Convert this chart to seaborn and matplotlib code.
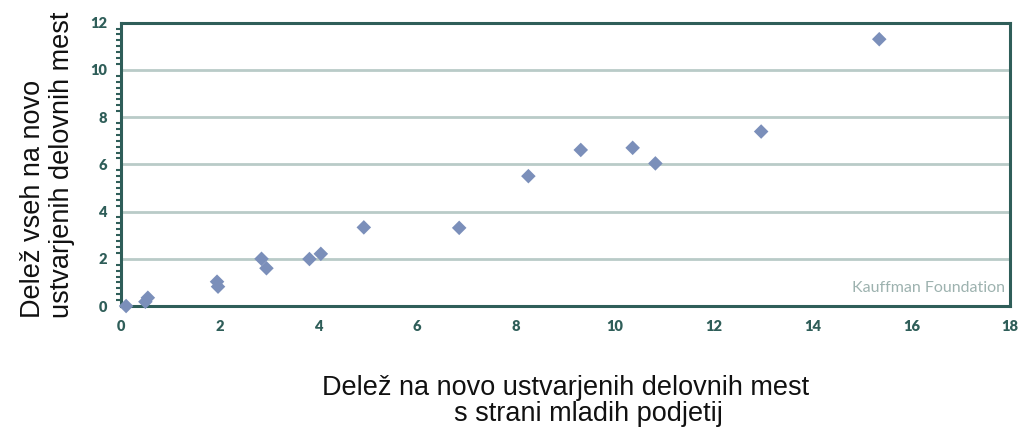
import numpy as np
import pandas as pd
import matplotlib
matplotlib.use("Agg")
import matplotlib.pyplot as plt
from matplotlib.ticker import MultipleLocator
import seaborn as sns

# Data
young_share = [0.11, 0.50, 0.55, 1.95, 1.97, 2.85, 2.95, 3.82, 4.05, 4.92,
               6.85, 8.25, 9.31, 10.36, 10.82, 12.96, 15.35]
total_share = [0.0, 0.18, 0.35, 1.03, 0.82, 2.0, 1.6, 1.99, 2.21, 3.33,
               3.31, 5.5, 6.61, 6.7, 6.04, 7.39, 11.3]
x_ticks = [0, 2, 4, 6, 8, 10, 12, 14, 16, 18]
y_ticks = [0, 2, 4, 6, 8, 10, 12]
x_label_l1 = "Delež na novo ustvarjenih delovnih mest"
x_label_l2 = "s strani mladih podjetij"
y_label = "Delež vseh na novo\nustvarjenih delovnih mest"
source = "Kauffman Foundation"

df = pd.DataFrame({"x": young_share, "y": total_share})

sns.set_style("white")
plt.rcParams["font.family"] = ["Liberation Sans", "DejaVu Sans"]

SPINE = "#2f5e59"
GRID = "#b9cbc8"
MARK = "#7b8fba"

fig = plt.figure(figsize=(10.34, 4.28), dpi=100)
ax = fig.add_axes([0.1167, 0.285, 0.977 - 0.1167, 0.947 - 0.285])

sns.scatterplot(data=df, x="x", y="y", ax=ax, marker="D", s=55,
                color=MARK, edgecolor="none", linewidth=0, zorder=3, clip_on=False)

ax.set_xlim(0, 18)
ax.set_ylim(0, 12)
ax.set_xticks(x_ticks)
ax.set_yticks(y_ticks)
ax.yaxis.set_minor_locator(MultipleLocator(0.25))

for g in y_ticks[1:-1]:
    ax.axhline(g, color=GRID, lw=2.0, zorder=1)

for sp in ax.spines.values():
    sp.set_visible(True)
    sp.set_color(SPINE)
    sp.set_linewidth(2.2)

ax.tick_params(axis="both", which="major", direction="out", color=SPINE,
               width=2, length=5, labelcolor=SPINE, labelsize=10.5, pad=5)
ax.tick_params(axis="y", which="minor", direction="out", color=SPINE,
               width=1.5, length=3.5, left=True)
ax.tick_params(axis="x", which="minor", bottom=False)
for lbl in ax.get_xticklabels() + ax.get_yticklabels():
    lbl.set_fontfamily("Lato")
    lbl.set_fontweight("heavy")

ax.set_xlabel(x_label_l1 + "\n      " + x_label_l2, fontsize=19.5, color="#111111",
              labelpad=30, linespacing=1.0)
ax.set_ylabel(y_label, fontsize=19.5, color="#111111", labelpad=11,
              multialignment="left", linespacing=1.15)

ax.text(0.994, 0.064, source, transform=ax.transAxes, ha="right", va="center",
        fontsize=11.5, color="#9db2af", fontfamily="Lato")

fig.savefig("out.png", dpi=100)
